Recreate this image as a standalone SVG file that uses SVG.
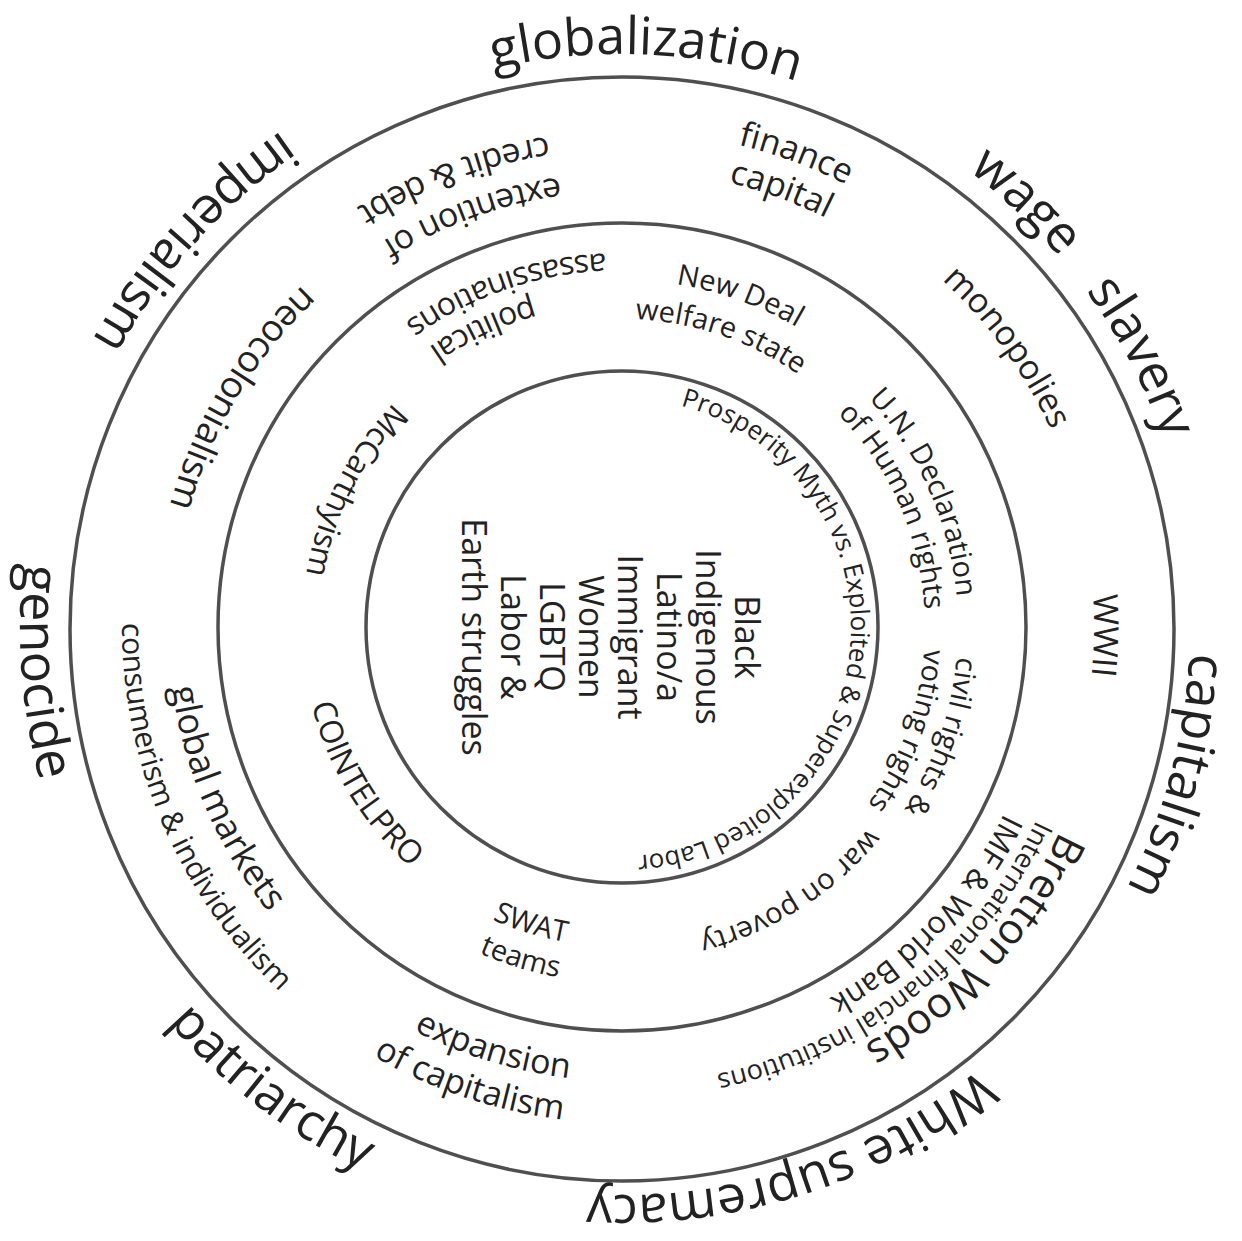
<svg xmlns="http://www.w3.org/2000/svg" width="1242" height="1241" viewBox="0 0 1242 1241">
<style>
text{font-family:"Open Sans","Noto Sans","Liberation Sans",sans-serif;fill:#222}
.ring{fill:none;stroke:#4f4f4f;stroke-width:3.5}
.o{font-size:52px}
.r2{font-size:34px}
.r1{font-size:29px}
.r1b{font-size:32px}
</style>
<defs>
<path id="cw573" d="M49 627A573 573 0 1 1 1195 627A573 573 0 1 1 49 627"/>
<path id="cw568" d="M54 627A568 568 0 1 1 1190 627A568 568 0 1 1 54 627"/>
<path id="ccw602" d="M20 627A602 602 0 1 0 1224 627A602 602 0 1 0 20 627"/>
<path id="cw496" d="M126 627A496 496 0 1 1 1118 627A496 496 0 1 1 126 627"/>
<path id="cw457" d="M165 627A457 457 0 1 1 1079 627A457 457 0 1 1 165 627"/>
<path id="cw472" d="M150 627A472 472 0 1 1 1094 627A472 472 0 1 1 150 627"/>
<path id="cw483" d="M139 627A483 483 0 1 1 1105 627A483 483 0 1 1 139 627"/>
<path id="cw425" d="M197 627A425 425 0 1 1 1047 627A425 425 0 1 1 197 627"/>
<path id="cw347" d="M275 627A347 347 0 1 1 969 627A347 347 0 1 1 275 627"/>
<path id="cw308" d="M314 627A308 308 0 1 1 930 627A308 308 0 1 1 314 627"/>
<path id="cw318" d="M304 627A318 318 0 1 1 940 627A318 318 0 1 1 304 627"/>
<path id="cw336" d="M286 627A336 336 0 1 1 958 627A336 336 0 1 1 286 627"/>
<path id="cw303" d="M319 627A303 303 0 1 1 925 627A303 303 0 1 1 319 627"/>
<path id="cw229" d="M393 627A229 229 0 1 1 851 627A229 229 0 1 1 393 627"/>
<path id="ccw454" d="M168 627A454 454 0 1 0 1076 627A454 454 0 1 0 168 627"/>
<path id="ccw468" d="M154 627A468 468 0 1 0 1090 627A468 468 0 1 0 154 627"/>
<path id="ccw496" d="M126 627A496 496 0 1 0 1118 627A496 496 0 1 0 126 627"/>
<path id="ccw500" d="M122 627A500 500 0 1 0 1122 627A500 500 0 1 0 122 627"/>
<path id="ccw320" d="M302 627A320 320 0 1 0 942 627A320 320 0 1 0 302 627"/>
<path id="ccw356" d="M266 627A356 356 0 1 0 978 627A356 356 0 1 0 266 627"/>
<path id="ccw340" d="M282 627A340 340 0 1 0 962 627A340 340 0 1 0 282 627"/>
<path id="ccw374" d="M248 627A374 374 0 1 0 996 627A374 374 0 1 0 248 627"/>
</defs>
<g id="rings">
<circle class="ring" cx="622" cy="629" r="552"/>
<circle class="ring" cx="622" cy="627" r="404"/>
<circle class="ring" cx="622" cy="627" r="256"/>
</g>
<g id="outer-labels">
<g id="globalization"><text class="o" transform="rotate(-87.6 622 627)"><textPath href="#cw573" startOffset="50%" text-anchor="middle">globalization</textPath></text></g>
<g id="wage-slavery"><text class="o" transform="rotate(-46.5 622 627)"><textPath href="#cw573" startOffset="50%" text-anchor="middle">wage</textPath></text><text class="o" transform="rotate(-27.5 622 627)"><textPath href="#cw573" startOffset="50%" text-anchor="middle">slavery</textPath></text></g>
<g id="capitalism"><text class="o" transform="rotate(15 622 627)"><textPath href="#cw568" startOffset="50%" text-anchor="middle">capitalism</textPath></text></g>
<g id="white-supremacy"><text class="o" transform="rotate(72.3 622 627)"><textPath href="#cw568" startOffset="50%" text-anchor="middle">White supremacy</textPath></text></g>
<g id="patriarchy"><text class="o" transform="rotate(127.2 622 627)"><textPath href="#ccw602" startOffset="50%" text-anchor="middle">patriarchy</textPath></text></g>
<g id="genocide"><text class="o" transform="rotate(175.6 622 627)"><textPath href="#ccw602" startOffset="50%" text-anchor="middle">genocide</textPath></text></g>
<g id="imperialism"><text class="o" transform="rotate(222 622 627)"><textPath href="#ccw602" startOffset="50%" text-anchor="middle">imperialism</textPath></text></g>
</g>
<g id="ring2-labels">
<g id="finance-capital"><text class="r2" transform="rotate(-69.8 622 627)"><textPath href="#cw496" startOffset="50%" text-anchor="middle">finance</textPath></text><text class="r2" transform="rotate(-70 622 627)"><textPath href="#cw457" startOffset="50%" text-anchor="middle">capital</textPath></text></g>
<g id="monopolies"><text class="r2" transform="rotate(-36 622 627)"><textPath href="#cw472" startOffset="50%" text-anchor="middle">monopolies</textPath></text></g>
<g id="wwii"><text class="r2" transform="rotate(1 622 627)"><textPath href="#cw472" startOffset="50%" text-anchor="middle">WWII</textPath></text></g>
<g id="bretton-woods"><text font-size="42" transform="rotate(25 622 627)"><textPath href="#cw483" startOffset="50%">Bretton Woods</textPath></text><text font-size="27" transform="rotate(25 622 627)"><textPath href="#cw457" startOffset="50%">International financial institutions</textPath></text><text font-size="31" transform="rotate(26 622 627)"><textPath href="#cw425" startOffset="50%">IMF &amp; World Bank</textPath></text></g>
<g id="expansion-of-capitalism"><text class="r2" transform="rotate(107 622 627)"><textPath href="#ccw454" startOffset="50%" text-anchor="middle">expansion</textPath></text><text class="r2" transform="rotate(108.5 622 627)"><textPath href="#ccw496" startOffset="50%" text-anchor="middle">of capitalism</textPath></text></g>
<g id="global-markets"><text font-size="36" transform="rotate(156.7 622 627)"><textPath href="#ccw454" startOffset="50%" text-anchor="middle">global markets</textPath></text><text font-size="30" transform="rotate(156.8 622 627)"><textPath href="#ccw500" startOffset="50%" text-anchor="middle">consumerism &amp; individualism</textPath></text></g>
<g id="neocolonialism"><text font-size="37" transform="rotate(211 622 627)"><textPath href="#ccw468" startOffset="50%" text-anchor="middle">neocolonialism</textPath></text></g>
<g id="credit-debt"><text class="r2" transform="rotate(250 622 627)"><textPath href="#ccw454" startOffset="50%" text-anchor="middle">extention of</textPath></text><text class="r2" transform="rotate(249.5 622 627)"><textPath href="#ccw496" startOffset="50%" text-anchor="middle">credit &amp; debt</textPath></text></g>
</g>
<g id="ring1-labels">
<g id="new-deal"><text class="r1" transform="rotate(-70.4 622 627)"><textPath href="#cw347" startOffset="50%" text-anchor="middle">New Deal</textPath></text><text class="r1" transform="rotate(-71.3 622 627)"><textPath href="#cw308" startOffset="50%" text-anchor="middle">welfare state</textPath></text></g>
<g id="un-declaration"><text class="r1" transform="rotate(-24 622 627)"><textPath href="#cw336" startOffset="50%" text-anchor="middle">U.N. Declaration</textPath></text><text class="r1" transform="rotate(-24 622 627)"><textPath href="#cw303" startOffset="50%" text-anchor="middle">of Human rights</textPath></text></g>
<g id="civil-rights"><text class="r1" transform="rotate(19 622 627)"><textPath href="#cw336" startOffset="50%" text-anchor="middle">civil rights &amp;</textPath></text><text class="r1" transform="rotate(20 622 627)"><textPath href="#cw303" startOffset="50%" text-anchor="middle">voting rights</textPath></text></g>
<g id="war-on-poverty"><text class="r1" transform="rotate(57.6 622 627)"><textPath href="#cw318" startOffset="50%" text-anchor="middle">war on poverty</textPath></text></g>
<g id="swat-teams"><text class="r1" transform="rotate(107 622 627)"><textPath href="#ccw320" startOffset="50%" text-anchor="middle">SWAT</textPath></text><text class="r1" transform="rotate(107 622 627)"><textPath href="#ccw356" startOffset="50%" text-anchor="middle">teams</textPath></text></g>
<g id="cointelpro"><text class="r1b" transform="rotate(148.6 622 627)"><textPath href="#ccw320" startOffset="50%" text-anchor="middle">COINTELPRO</textPath></text></g>
<g id="mccarthyism"><text class="r1b" transform="rotate(207 622 627)"><textPath href="#ccw320" startOffset="50%" text-anchor="middle">McCarthyism</textPath></text></g>
<g id="political-assassinations"><text class="r1b" transform="rotate(245 622 627)"><textPath href="#ccw340" startOffset="50%" text-anchor="middle">political</textPath></text><text class="r1b" transform="rotate(251 622 627)"><textPath href="#ccw374" startOffset="50%" text-anchor="middle">assassinations</textPath></text></g>
</g>
<g id="inner-labels">
<g id="prosperity-myth"><text font-size="26" transform="rotate(5.5 622 627)"><textPath href="#cw229" startOffset="50%" text-anchor="middle">Prosperity Myth vs. Exploited &amp; Superexploited Labor</textPath></text></g>
<g id="struggles"><text font-size="34" text-anchor="middle" transform="translate(735 637) rotate(90)"><tspan x="0" y="0">Black</tspan><tspan x="0" dy="39">Indigenous</tspan><tspan x="0" dy="39">Latino/a</tspan><tspan x="0" dy="39">Immigrant</tspan><tspan x="0" dy="39">Women</tspan><tspan x="0" dy="39">LGBTQ</tspan><tspan x="0" dy="39">Labor &amp;</tspan><tspan x="0" dy="39">Earth struggles</tspan></text></g>
</g>
</svg>
